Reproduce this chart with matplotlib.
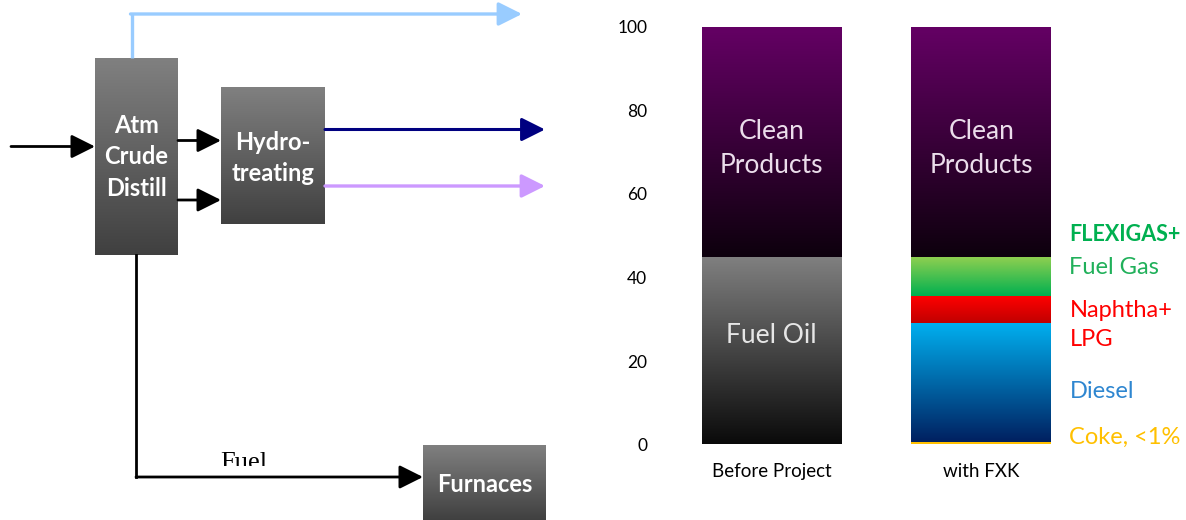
import numpy as np
import matplotlib.pyplot as plt
from matplotlib.patches import Rectangle
from matplotlib.colors import to_rgb

plt.rcParams['font.family'] = ['Lato', 'DejaVu Sans']

# Dados do gráfico de barras
categorias = ['Before Project', 'with FXK']
antes_valores = [45, 55]
antes_nomes = ['Fuel Oil', 'Clean Products']
fxk_valores = [0.5, 28.7, 6.4, 9.4, 55]
fxk_nomes = ['Coke, <1%', 'Diesel', 'Naphtha+\nLPG', 'Fuel Gas', 'Clean Products']
ticks_y = [0, 20, 40, 60, 80, 100]

# Gradientes (topo, base) por segmento
grad = {
    'Fuel Oil': ('#808080', '#0a0a0a'),
    'Clean Products': ('#640064', '#0d000d'),
    'Coke, <1%': ('#FFC000', '#FFC000'),
    'Diesel': ('#00B0F0', '#002060'),
    'Naphtha+\nLPG': ('#FF0000', '#C00000'),
    'Fuel Gas': ('#92D050', '#00B050'),
}


def gradiente(ax, x0, x1, y0, y1, c_topo, c_base, clip=None):
    n = 256
    a = np.array(to_rgb(c_topo))
    b = np.array(to_rgb(c_base))
    f = np.linspace(0, 1, n)[:, None]
    img = (a * (1 - f) + b * f)[:, None, :]
    im = ax.imshow(img, extent=[x0, x1, y0, y1], origin='upper',
                   aspect='auto', interpolation='bilinear', zorder=2)
    if clip is not None:
        im.set_clip_path(clip)
    return im


fig = plt.figure(figsize=(11.86, 5.2), dpi=100)

# ---------------- Diagrama de processo (coordenadas em pixels) ----------------
axd = fig.add_axes([0, 0, 1, 1])
axd.set_xlim(0, 1186)
axd.set_ylim(520, 0)
axd.axis('off')

caixas = [
    (95, 58, 178, 255, 'Atm\nCrude\nDistill', 157),
    (221, 87, 325, 224, 'Hydro-\ntreating', 158),
    (423, 445, 546, 520, 'Furnaces', 485),
]
for x0, y0, x1, y1, txt, yc in caixas:
    gradiente(axd, x0, x1, y1, y0, '#808080', '#404040')
    axd.text((x0 + x1) / 2, yc, txt, color='white', ha='center',
             va='center', fontsize=17, fontweight='bold', linespacing=1.45, zorder=3)


def seta(p0, p1, cor, lw=2.0, ms=16):
    axd.annotate('', xy=p1, xytext=p0,
                 arrowprops=dict(arrowstyle='-|>,head_length=0.9,head_width=0.45',
                                 color=cor, lw=lw, mutation_scale=ms,
                                 shrinkA=0, shrinkB=0), zorder=4)


seta((11, 146.5), (95, 146.5), 'black')
seta((178, 140.5), (221, 140.5), 'black')
seta((178, 200), (221, 200), 'black')
axd.plot([131.5, 131.5], [58, 14], color='#99CCFF', lw=2.4, solid_capstyle='butt')
seta((130.5, 14), (522, 14), '#99CCFF', lw=2.4)
seta((325, 129.5), (545, 129.5), '#000080', lw=2.2)
seta((325, 186), (545, 186), '#CC99FF', lw=2.4)
axd.plot([136, 136], [255, 477], color='black', lw=2.0, solid_capstyle='projecting')
seta((136, 477), (423, 477), 'black')

t = axd.text(244, 469, 'Fuel', fontsize=19, family=['Liberation Serif', 'DejaVu Serif'],
             ha='center', va='baseline', color='black', zorder=3)
t.set_clip_path(Rectangle((200, 430), 100, 36, transform=axd.transData))
t.set_clip_on(True)

# ---------------- Gráfico de barras empilhadas ----------------
ax = fig.add_axes([650 / 1186, 75.5 / 520, 536 / 1186, 417.5 / 520])
ax.patch.set_alpha(0)
largura = 0.667
xs = np.arange(len(categorias))

for xi, valores, nomes in [(xs[0], antes_valores, antes_nomes), (xs[1], fxk_valores, fxk_nomes)]:
    base = 0
    for v, nome in zip(valores, nomes):
        r = ax.bar(xi, v, largura, bottom=base, color='none', linewidth=0)[0]
        c1, c2 = grad[nome]
        gradiente(ax, xi - largura / 2, xi + largura / 2, base, base + v, c1, c2, clip=r)
        base += v

# rótulos dentro das barras
ax.text(xs[0], 26.2, antes_nomes[0], ha='center', va='center',
        color='#E6E6E6', fontsize=19, zorder=5)
for xi in xs:
    ax.text(xi, 71, 'Clean\nProducts', ha='center', va='center',
            color='#EBDDEB', fontsize=19, linespacing=1.45, zorder=5)

# rótulos à direita
xl = xs[1] + 0.42
ax.text(xl, 1.8, 'Coke, <1%', color='#FFC000', fontsize=17, va='center')
ax.text(xl, 12.8, 'Diesel', color='#2E86D0', fontsize=17, va='center')
ax.text(xl, 28.6, 'Naphtha+\nLPG', color='#FF0000', fontsize=17, va='center', linespacing=1.5)
ax.text(xl, 42.5, 'Fuel Gas', color='#20B05A', fontsize=17, va='center')
ax.text(xl, 50.2, 'FLEXIGAS+', color='#00B050', fontsize=15.5, fontweight='bold', va='center')

ax.set_xlim(-0.58, 1.976)
ax.set_ylim(0, 100)
ax.set_yticks(ticks_y)
ax.set_xticks(xs)
ax.set_xticklabels(categorias, fontsize=13.5)
ax.tick_params(axis='y', length=0, pad=2, labelsize=12.5)
ax.tick_params(axis='x', length=0, pad=13)
for s in ax.spines.values():
    s.set_visible(False)

fig.savefig('out.png', dpi=100)
